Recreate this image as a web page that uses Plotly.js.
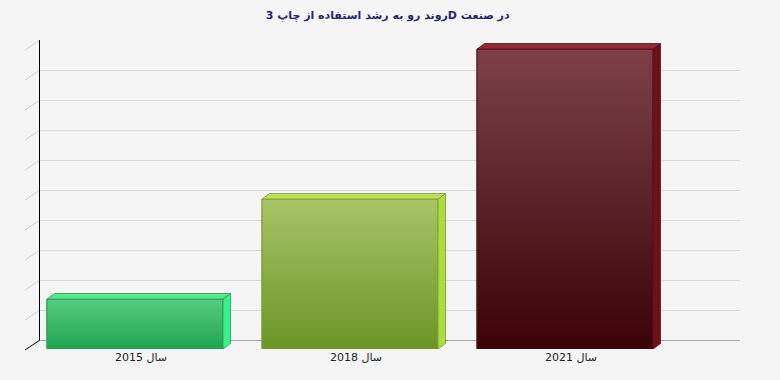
<!DOCTYPE html>
<html>
<head>
<meta charset="utf-8">
<script src="https://cdn.plot.ly/plotly-3.0.1.min.js"></script>
<style>
  html, body { margin: 0; padding: 0; background: #f5f5f5; }
  #chart { width: 780px; height: 380px; }
</style>
</head>
<body>
<div id="chart"></div>
<script>
// ---- data ----
const titleText = 'روند رو به رشد استفاده از چاپ 3D در صنعت';
const categories = ['سال 2015', 'سال 2018', 'سال 2021'];
const values = [5, 15, 30];

// ---- styles ----
const frontTop    = ['#55cd80', '#a7c567', '#7b4147'];
const frontBottom = ['#1fa452', '#6b9427', '#3c0306'];
const topColors   = ['#55e790', '#bde05a', '#8f2a36'];
const sideColors  = ['#3ef08c', '#aade3e', '#6d111a'];
const edgeColors  = ['#2a9b51', '#7d9c33', '#55101a'];

// geometry (pixels)
const W = 780, H = 380;
const mL = 25, mR = 40, mT = 38, mB = 30;
const plotW = W - mL - mR;       // 715
const plotH = H - mT - mB;       // 312
const plotBottomPx = H - mB;     // 350
const pxPerCat = 215;
const firstCenterPx = 135;
const barWidth = 176 / pxPerCat;
const depthPx = [15, 10];        // floor depth (x, y)
const barDepthPx = [7.5, 5.5];
const yMax = 30, yStep = 3;
const backBottomPx = 340, backTopPx = 40, frontZeroPx = 349;

const xStart = -(firstCenterPx - mL) / pxPerCat;
const xEnd = xStart + plotW / pxPerCat;
const pxPerUnit = (backBottomPx - backTopPx) / yMax;    // 10 px per unit
const y2Top = (frontZeroPx - mT) / pxPerUnit;
const ddx = barDepthPx[0] / pxPerCat;
const ddy = barDepthPx[1] / pxPerUnit;
const toPaperY = px => (plotBottomPx - px) / plotH;

const xs = categories.map((c, i) => i);
const traces = [];

// back wall subplot (holds the grid and the value axis)
traces.push({
  type: 'scatter', mode: 'markers', x: [], y: [], xaxis: 'x', yaxis: 'y',
  hoverinfo: 'skip', showlegend: false
});

// base bar trace (front faces)
traces.push({
  type: 'bar', x: xs, y: values, width: barWidth,
  xaxis: 'x2', yaxis: 'y2',
  marker: { color: frontBottom, line: { color: edgeColors, width: 1 } },
  hoverinfo: 'skip', showlegend: false
});

values.forEach((v, i) => {
  const xl = xs[i] - barWidth / 2, xr = xs[i] + barWidth / 2;
  // front face gradient overlay
  traces.push({
    type: 'scatter', mode: 'lines', xaxis: 'x2', yaxis: 'y2',
    x: [xl, xr, xr, xl, xl], y: [0, 0, v, v, 0],
    fill: 'toself',
    fillgradient: { type: 'vertical', colorscale: [[0, frontBottom[i]], [1, frontTop[i]]] },
    line: { color: edgeColors[i], width: 1 },
    hoverinfo: 'skip', showlegend: false
  });
  // right side face
  traces.push({
    type: 'scatter', mode: 'lines', xaxis: 'x2', yaxis: 'y2',
    x: [xr, xr + ddx, xr + ddx, xr, xr], y: [0, ddy, v + ddy, v, 0],
    fill: 'toself', fillcolor: sideColors[i],
    line: { color: edgeColors[i], width: 0.8 },
    hoverinfo: 'skip', showlegend: false
  });
  // top face
  traces.push({
    type: 'scatter', mode: 'lines', xaxis: 'x2', yaxis: 'y2',
    x: [xl, xr, xr + ddx, xl + ddx, xl], y: [v, v, v + ddy, v + ddy, v],
    fill: 'toself', fillcolor: topColors[i],
    line: { color: edgeColors[i], width: 0.8 },
    hoverinfo: 'skip', showlegend: false
  });
});

// depth lines at left of the back wall
const shapes = [];
for (let t = 0; t <= yMax + 1e-9; t += yStep) {
  const yBack = toPaperY(backBottomPx - t * pxPerUnit);
  const yFront = toPaperY(backBottomPx + depthPx[1] - t * pxPerUnit);
  shapes.push({
    type: 'line', xref: 'paper', yref: 'paper', layer: 'below',
    x0: 0, y0: yFront, x1: depthPx[0] / plotW, y1: yBack,
    line: { color: t === 0 ? '#000000' : '#d2d2d2', width: 1 }
  });
}

const layout = {
  width: W, height: H, autosize: false,
  margin: { l: mL, r: mR, t: mT, b: mB, pad: 0 },
  paper_bgcolor: '#f5f5f5', plot_bgcolor: 'rgba(0,0,0,0)',
  showlegend: false,
  title: {
    text: titleText, xref: 'container', x: 0.497, xanchor: 'center',
    yref: 'container', y: 1 - 15 / H, yanchor: 'middle',
    font: { family: 'DejaVu Sans', size: 11, color: '#26256b', weight: 'bold' }
  },
  xaxis: {
    domain: [depthPx[0] / plotW, 1], range: [0, 1], anchor: 'y',
    showgrid: false, zeroline: false, showline: false, showticklabels: false, ticks: '', fixedrange: true
  },
  yaxis: {
    domain: [toPaperY(backBottomPx), toPaperY(backTopPx)], range: [0, yMax], dtick: yStep, tick0: 0, anchor: 'x',
    showgrid: true, gridcolor: '#dadada', gridwidth: 1,
    zeroline: true, zerolinecolor: '#a8a8a8', zerolinewidth: 1,
    showline: true, linecolor: '#000000', linewidth: 1,
    showticklabels: false, ticks: '', fixedrange: true
  },
  xaxis2: {
    domain: [0, 1], range: [xStart, xEnd], anchor: 'y2',
    tickmode: 'array', tickvals: xs, ticktext: categories,
    showgrid: false, zeroline: false, showline: false, ticks: '',
    ticklabelshift: 6, ticklabelstandoff: 0,
    tickfont: { family: 'DejaVu Sans', size: 11, color: '#222222' }, fixedrange: true
  },
  yaxis2: {
    domain: [toPaperY(frontZeroPx), 1], range: [0, y2Top], anchor: 'x2',
    showgrid: false, zeroline: false, showline: false, showticklabels: false, ticks: '', fixedrange: true
  },
  shapes: shapes,
  bargap: 0
};

Plotly.newPlot('chart', traces, layout, { staticPlot: true, displayModeBar: false });
</script>
</body>
</html>
